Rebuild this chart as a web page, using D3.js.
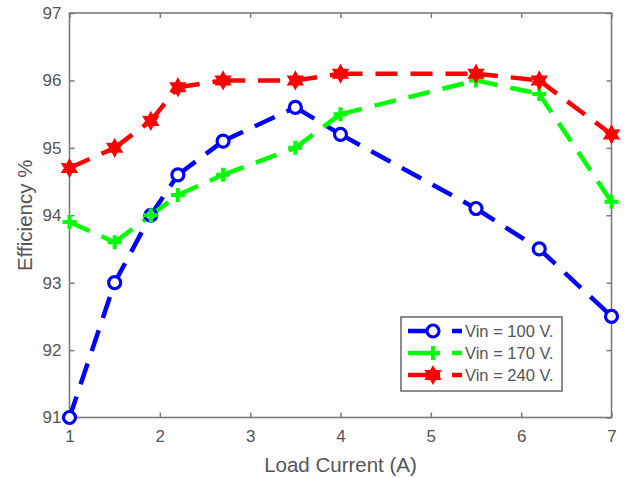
<!DOCTYPE html>
<html>
<head>
<meta charset="utf-8">
<script src="https://cdn.jsdelivr.net/npm/d3@7"></script>
<style>
  body { margin: 0; background: #fff; }
  text { font-family: "Liberation Sans", Arial, sans-serif; fill: #555; }
</style>
</head>
<body>
<div id="chart"></div>
<script>
// load current (A) and efficiency readings per input voltage
var current = [1, 1.5, 1.9, 2.2, 2.7, 3.5, 4, 5.5, 6.2, 7]
var eff100 = [91.0, 93.0, 94.0, 94.6, 95.1, 95.6, 95.2, 94.1, 93.5, 92.5]
var eff170 = [93.9, 93.6, 94.0, 94.3, 94.6, 95.0, 95.5, 96.0, 95.8, 94.2]
var eff240 = [94.7, 95.0, 95.4, 95.9, 96.0, 96.0, 96.1, 96.1, 96.0, 95.2]
var seriesNames = ["Vin = 100 V.", "Vin = 170 V.", "Vin = 240 V."]
var xTicks = [1, 2, 3, 4, 5, 6, 7]
var yTicks = [91, 92, 93, 94, 95, 96, 97]

var w = 631, h = 478
var m_left = 69.5, m_right = 611.5, m_top = 13, m_bottom = 417.5

var series = [
  {name: seriesNames[0], vals: eff100, color: "#0000ff", marker: "circle"},
  {name: seriesNames[1], vals: eff170, color: "#00ff00", marker: "plus"},
  {name: seriesNames[2], vals: eff240, color: "#ff0000", marker: "star"}
]

var x = d3.scaleLinear().domain([1, 7]).range([m_left, m_right])
var y = d3.scaleLinear().domain([91, 97]).range([m_bottom, m_top])

var svg = d3.select("#chart").append("svg")
  .attr("width", w).attr("height", h)

// box + inward ticks like matlab
var axisColor = "#7a7a7a"
svg.append("g").attr("transform", "translate(0," + m_bottom + ")")
  .call(d3.axisBottom(x).tickValues(xTicks).tickSize(-5).tickPadding(12).tickFormat(d3.format("d")))
  .call(function(g){ g.select(".domain").remove() })
svg.append("g").attr("transform", "translate(0," + m_top + ")")
  .call(d3.axisTop(x).tickValues(xTicks).tickSize(-5).tickFormat(""))
  .call(function(g){ g.select(".domain").remove() })
svg.append("g").attr("transform", "translate(" + m_left + ",0)")
  .call(d3.axisLeft(y).tickValues(yTicks).tickSize(-5).tickPadding(8).tickFormat(d3.format("d")))
  .call(function(g){ g.select(".domain").remove() })
svg.append("g").attr("transform", "translate(" + m_right + ",0)")
  .call(d3.axisRight(y).tickValues(yTicks).tickSize(-5).tickFormat(""))
  .call(function(g){ g.select(".domain").remove() })

svg.selectAll(".tick line").attr("stroke", axisColor).attr("stroke-width", 1.5)
svg.selectAll(".tick text").attr("font-size", 17).attr("fill", "#555")
  .style("font-family", "'Liberation Sans', Arial, sans-serif")

svg.append("rect")
  .attr("x", m_left).attr("y", m_top)
  .attr("width", m_right - m_left).attr("height", m_bottom - m_top)
  .attr("fill", "none").attr("stroke", axisColor).attr("stroke-width", 1.6)

svg.append("text")
  .attr("x", (m_left + m_right) / 2).attr("y", 472)
  .attr("text-anchor", "middle").attr("font-size", 20.5)
  .text("Load Current (A)")

svg.append("text")
  .attr("transform", "translate(32," + (m_top + m_bottom) / 2 + ") rotate(-90)")
  .attr("text-anchor", "middle").attr("font-size", 20.5)
  .text("Efficiency %")

// six pointed star (matlab 'h')
var hexagram = function(cx, cy, ro, ri) {
  var pts = []
  for (var k = 0; k < 12; k++) {
    var a = -Math.PI / 2 + k * Math.PI / 6
    var r = k % 2 == 0 ? ro : ri
    pts.push([cx + r * Math.cos(a), cy + r * Math.sin(a)])
  }
  return "M" + pts.join("L") + "Z"
}

var drawMarker = function(g, type, color, cx, cy) {
  if (type == "circle") {
    g.append("circle").attr("cx", cx).attr("cy", cy).attr("r", 6)
      .attr("fill", "#fff").attr("stroke", color).attr("stroke-width", 3.2)
  } else if (type == "plus") {
    g.append("path")
      .attr("d", "M" + (cx - 7) + "," + cy + "H" + (cx + 7) + "M" + cx + "," + (cy - 7) + "V" + (cy + 7))
      .attr("stroke", color).attr("stroke-width", 4).attr("fill", "none")
  } else {
    g.append("path")
      .attr("d", hexagram(cx, cy, 8.5, 4.8))
      .attr("fill", color).attr("stroke", color).attr("stroke-width", 1.5)
  }
}

var plot = svg.append("g")

series.forEach(function(s) {
  var g = plot.append("g")
  // every segment restarts the dash at its vertex
  for (var i = 0; i < current.length - 1; i++) {
    g.append("line")
      .attr("x1", x(current[i])).attr("y1", y(s.vals[i]))
      .attr("x2", x(current[i + 1])).attr("y2", y(s.vals[i + 1]))
      .attr("stroke", s.color).attr("stroke-width", 4.5)
      .attr("stroke-dasharray", "22,13")
  }
})
series.forEach(function(s) {
  var g = plot.append("g")
  for (var i = 0; i < current.length; i++) {
    drawMarker(g, s.marker, s.color, x(current[i]), y(s.vals[i]))
  }
})

// legend
var lg = svg.append("g")
lg.append("rect")
  .attr("x", 401).attr("y", 317).attr("width", 161).attr("height", 74)
  .attr("fill", "#fff").attr("stroke", "#666").attr("stroke-width", 1.5)

series.forEach(function(s, i) {
  var ly = 331 + i * 22
  lg.append("line")
    .attr("x1", 408).attr("x2", 462).attr("y1", ly).attr("y2", ly)
    .attr("stroke", s.color).attr("stroke-width", 4.5)
    .attr("stroke-dasharray", "32,12,10")
  drawMarker(lg, s.marker, s.color, 433, ly)
  lg.append("text")
    .attr("x", 465).attr("y", ly + 6)
    .attr("font-size", 16.5)
    .text(s.name)
})
</script>
</body>
</html>
